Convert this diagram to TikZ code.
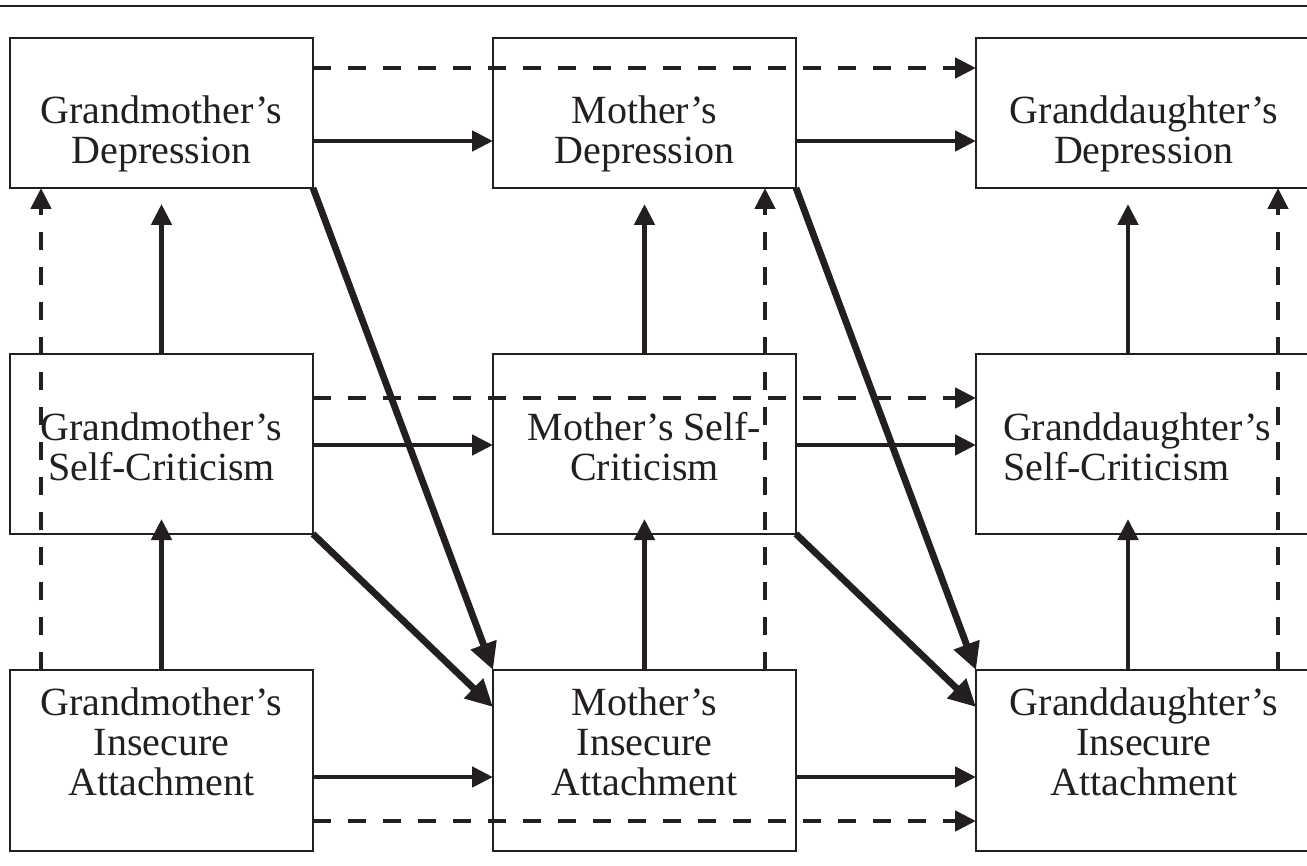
\documentclass[tikz,border=0pt]{standalone}
\usepackage{fontspec}
\setmainfont{Liberation Serif}
\usetikzlibrary{arrows.meta,positioning}

\definecolor{ink}{HTML}{231F20}

\tikzset{
  box/.style={draw=ink, line width=1.4pt, rectangle, inner sep=0pt, outer sep=0pt, minimum width=151.5pt},
  boxtext/.style={text=ink, font=\fontsize{20}{20}\selectfont, align=center, inner sep=0pt, outer sep=0pt},
  link/.style={draw=ink, line width=2.4pt, -{Triangle[length=10.5pt,width=10pt]}},
  linkdash/.style={link, dash pattern=on 9pt off 8.5pt},
  linkbold/.style={draw=ink, line width=3.4pt, -{Triangle[length=13.5pt,width=13pt]}}
}

\begin{document}
\begin{tikzpicture}[x=0.5pt, y=-0.5pt]
\clip (0,0) rectangle (1307,866);
\fill[white] (0,0) rectangle (1307,866);
\draw[ink, line width=1.3pt] (0,6) -- (1307,6);

% depression
\node[box, minimum height=75pt] (gmDep) at (161.5,113) {};
\node[box, minimum height=75pt] (moDep) at (644.5,113) {};
\node[box, minimum height=75pt, minimum width=168pt] (gdDep) at (1144,113) {};
\node[boxtext, below=28.9pt of gmDep.north] (gmDepT) {Grandmother's\\Depression};
\node[boxtext, below=28.9pt of moDep.north] (moDepT) {Mother's\\Depression};
\node[boxtext, below=28.9pt of gdDep.north] (gdDepT) {Granddaughter's\\Depression};

% self-criticism
\node[box, minimum height=90pt] (gmSC) at (161.5,444) {};
\node[box, minimum height=90pt] (moSC) at (644.5,444) {};
\node[box, minimum height=90pt, minimum width=168pt] (gdSC) at (1144,444) {};
\node[boxtext, below=29.3pt of gmSC.north] (gmSCT) {Grandmother's\\Self-Criticism};
\node[boxtext, below=29.3pt of moSC.north] (moSCT) {Mother's Self-\\Criticism};
\node[boxtext, align=left, below right=29.3pt and 13.5pt of gdSC.north west] (gdSCT) {Granddaughter's\\Self-Criticism};

% insecure attachment
\node[box, minimum height=90.5pt] (gmIA) at (161.5,760.5) {};
\node[box, minimum height=90.5pt] (moIA) at (644.5,760.5) {};
\node[box, minimum height=90.5pt, minimum width=168pt] (gdIA) at (1144,760.5) {};
\node[boxtext, below=8.9pt of gmIA.north] (gmIAT) {Grandmother's\\Insecure\\Attachment};
\node[boxtext, below=8.9pt of moIA.north] (moIAT) {Mother's\\Insecure\\Attachment};
\node[boxtext, below=8.9pt of gdIA.north] (gdIAT) {Granddaughter's\\Insecure\\Attachment};

% across generations
\draw[linkdash] (gmDep.east |- 0,68) -- (gdDep.west |- 0,68);
\draw[link] (gmDep.east |- 0,141) -- (moDep.west |- 0,141);
\draw[link] (moDep.east |- 0,141) -- (gdDep.west |- 0,141);
\draw[linkdash] (gmSC.east |- 0,398) -- (gdSC.west |- 0,398);
\draw[link] (gmSC.east |- 0,445) -- (moSC.west |- 0,445);
\draw[link] (moSC.east |- 0,445) -- (gdSC.west |- 0,445);
\draw[link] (gmIA.east |- 0,777) -- (moIA.west |- 0,777);
\draw[link] (moIA.east |- 0,777) -- (gdIA.west |- 0,777);
\draw[linkdash] (gmIA.east |- 0,821) -- (gdIA.west |- 0,821);

% within each generation
\draw[link, shorten >=8pt] (gmSC.north) -- (gmDep.south);
\draw[link, shorten >=-7.5pt] (gmIA.north) -- (gmSC.south);
\draw[linkdash] (gmIA.north -| 41,0) -- (gmDep.south -| 41,0);
\draw[link, shorten >=8pt] (moSC.north) -- (moDep.south);
\draw[link, shorten >=-7.5pt] (moIA.north) -- (moSC.south);
\draw[linkdash] (moIA.north -| 765,0) -- (moDep.south -| 765,0);
\draw[link, shorten >=8pt] (gdSC.north -| 1128,0) -- (gdDep.south -| 1128,0);
\draw[link, shorten >=-7.5pt] (gdIA.north -| 1128,0) -- (gdSC.south -| 1128,0);
\draw[linkdash] (gdIA.north -| 1278,0) -- (gdDep.south -| 1278,0);

% into insecure attachment
\draw[linkbold] (gmDep.south east) -- (moIA.north west);
\draw[linkbold] (gmSC.south east) -- (moIA.west |- 0,707);
\draw[linkbold] (moDep.south east) -- (gdIA.north west);
\draw[linkbold] (moSC.south east) -- (gdIA.west |- 0,707);
\end{tikzpicture}
\end{document}
